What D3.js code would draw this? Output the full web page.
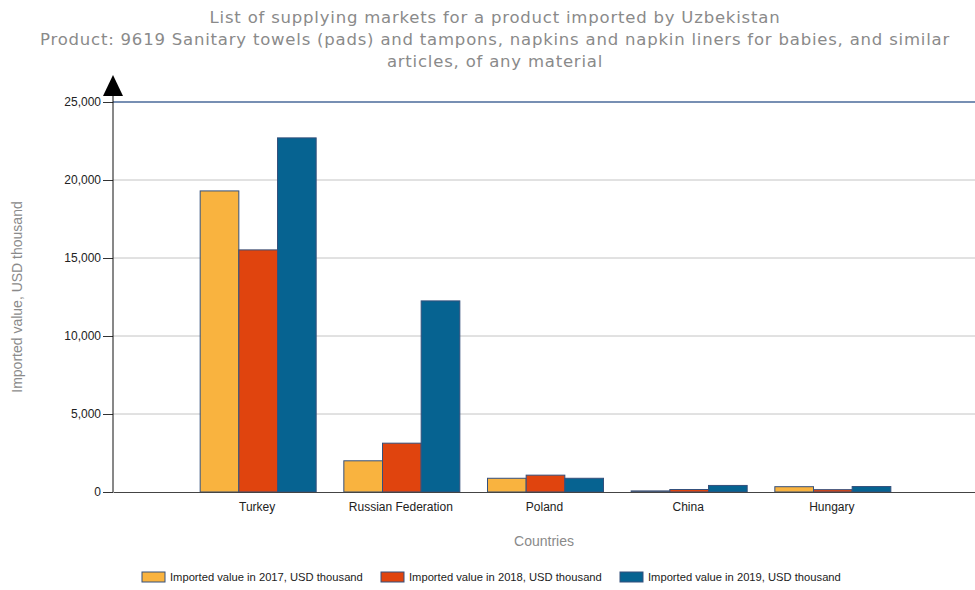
<!DOCTYPE html>
<html>
<head>
<meta charset="utf-8">
<script src="https://cdn.jsdelivr.net/npm/d3@7"></script>
<style>
  body { margin: 0; background: #fff; }
  svg { display: block; font-family: "Liberation Sans", Arial, sans-serif; }
</style>
</head>
<body>
<svg id="chart"></svg>
<script>
// Data
const countries = ["Turkey", "Russian Federation", "Poland", "China", "Hungary"];
const seriesNames = [
  "Imported value in 2017, USD thousand",
  "Imported value in 2018, USD thousand",
  "Imported value in 2019, USD thousand"
];
const values2017 = [19300, 2000, 880, 70, 340];
const values2018 = [15520, 3130, 1080, 160, 150];
const values2019 = [22700, 12250, 880, 420, 350];
const yTicks = [0, 5000, 10000, 15000, 20000, 25000];
const titleLines = [
  "List of supplying markets for a product imported by Uzbekistan",
  "Product: 9619 Sanitary towels (pads) and tampons, napkins and napkin liners for babies, and similar",
  "articles, of any material"
];
const colors = ["#f9b33f", "#e0440e", "#066391"];

// Configuration
const W = 975, H = 590;
const margin = { top: 102, right: 0, bottom: 98, left: 113 };
const width = W - margin.left - margin.right;
const height = H - margin.top - margin.bottom;
const formatValue = d3.format(",");

const svg = d3.select("#chart").attr("width", W).attr("height", H);

// Title (spacing stretched so the long line spans about 910px like the original)
const title = svg.append("g").selectAll("text")
  .data(titleLines)
  .join("text")
  .attr("x", 495)
  .attr("y", (d, i) => 23 + i * 22)
  .attr("text-anchor", "middle")
  .attr("fill", "#8a8a8a")
  .style("font-family", "'DejaVu Sans', sans-serif")
  .style("font-size", "16.5px")
  .text(d => d);
const longLine = title.nodes()[1];
const spacing = Math.max(0, (910 - longLine.getComputedTextLength()) / titleLines[1].length);
title.style("letter-spacing", `${spacing}px`);

const g = svg.append("g").attr("transform", `translate(${margin.left},${margin.top})`);

// Scales
const x = d3.scalePoint().domain(["", ...countries, " "]).range([0, width]);
const groupWidth = 116;
const xSub = d3.scaleBand().domain(d3.range(3)).range([-groupWidth / 2, groupWidth / 2]);
const y = d3.scaleLinear().domain([0, 25000]).range([height, 0]);

// Gridlines
g.append("g")
  .selectAll("line")
  .data(yTicks.filter(d => d > 0))
  .join("line")
  .attr("x1", 0).attr("x2", width)
  .attr("y1", d => y(d)).attr("y2", d => y(d))
  .attr("stroke", d => d === 25000 ? "#4a6a9a" : "#c4c4c4")
  .attr("stroke-width", d => d === 25000 ? 1.5 : 1);

// Y axis
const yAxis = g.append("g")
  .call(d3.axisLeft(y).tickValues(yTicks).tickFormat(formatValue).tickSize(10).tickPadding(2));
yAxis.select(".domain").remove();
yAxis.selectAll("line").attr("stroke", "#333");
yAxis.selectAll("text").attr("fill", "#222").style("font-size", "12px");

// Bars
const seriesData = [values2017, values2018, values2019];
countries.forEach((c, ci) => {
  g.append("g")
    .selectAll("rect")
    .data(seriesData.map((s, si) => ({ si, v: s[ci] })))
    .join("rect")
    .attr("x", d => x(c) + 1.5 + xSub(d.si))
    .attr("width", xSub.bandwidth())
    .attr("y", d => y(d.v))
    .attr("height", d => height - y(d.v))
    .attr("fill", d => colors[d.si])
    .attr("stroke", "#34507c")
    .attr("stroke-width", 1);
});

// X axis
const xAxis = g.append("g")
  .attr("transform", `translate(0,${height})`)
  .call(d3.axisBottom(x).tickValues(countries).tickSize(0).tickPadding(10));
xAxis.select(".domain").attr("stroke", "#444");
xAxis.selectAll("text").attr("fill", "#222").style("font-size", "12px");

// Y axis line and arrow
g.append("line")
  .attr("x1", 0).attr("x2", 0)
  .attr("y1", -8).attr("y2", height)
  .attr("stroke", "#111");
g.append("path")
  .attr("d", "M0,-27L10,-6L-10,-6Z")
  .attr("fill", "#000");

// Axis titles
svg.append("text")
  .attr("x", 544).attr("y", 546)
  .attr("text-anchor", "middle")
  .attr("fill", "#8a8a8a")
  .style("font-size", "14px")
  .text("Countries");
svg.append("text")
  .attr("transform", "translate(22,297) rotate(-90)")
  .attr("text-anchor", "middle")
  .attr("fill", "#8a8a8a")
  .style("font-size", "14px")
  .text("Imported value, USD thousand");

// Legend
const legend = svg.append("g").selectAll("g")
  .data(seriesNames)
  .join("g")
  .attr("transform", (d, i) => `translate(${142 + i * 239},572)`);
legend.append("rect")
  .attr("width", 23).attr("height", 10)
  .attr("fill", (d, i) => colors[i])
  .attr("stroke", "#34507c");
legend.append("text")
  .attr("x", 28).attr("y", 9)
  .attr("fill", "#222")
  .style("font-size", "11.2px")
  .text(d => d);
</script>
</body>
</html>
